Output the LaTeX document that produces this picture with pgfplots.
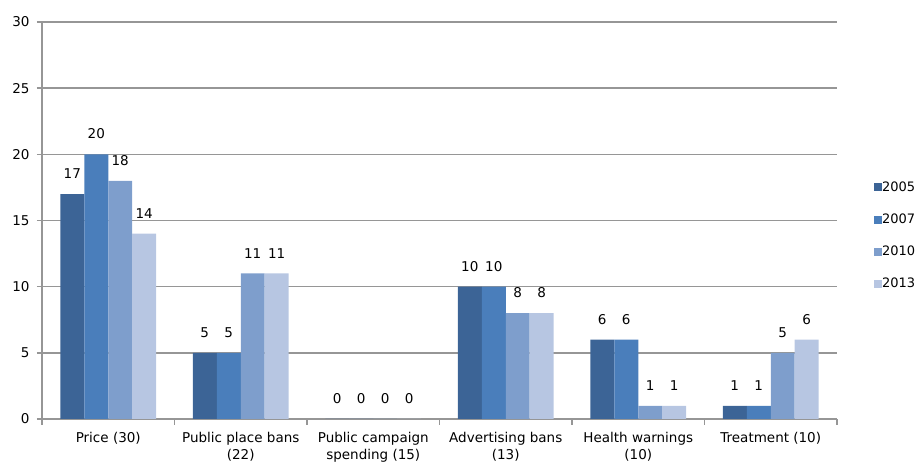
\documentclass[border=0pt]{standalone}
\usepackage{fontspec}
\setmainfont{DejaVu Sans}
\usepackage{pgfplots}
\pgfplotsset{compat=1.18}
\definecolor{cA}{RGB}{60,100,150}
\definecolor{cB}{RGB}{74,126,187}
\definecolor{cC}{RGB}{126,158,204}
\definecolor{cD}{RGB}{183,198,226}
\definecolor{gridc}{RGB}{150,150,150}
\begin{document}
\begin{tikzpicture}
\path[use as bounding box] (-42pt,-46pt) rectangle (881pt,419pt);
\begin{axis}[
  at={(0pt,0pt)}, anchor=south west,
  scale only axis, width=795pt, height=397pt,
  xmin=0, xmax=6, ymin=0, ymax=30,
  /pgf/number format/assume math mode=true,
  ytick={0,5,...,30},
  xtick={0.5,1.5,...,5.5},
  xticklabels={Price (30),Public place bans\\(22),Public campaign\\spending (15),Advertising bans\\(13),Health warnings\\(10),Treatment (10)},
  minor xtick={0,1,...,6},
  major x tick style={draw=none},
  minor tick length=6pt,
  axis x line=bottom, axis y line=left,
  axis line style={draw=gridc, line width=1.6pt, -},
  ymajorgrids, grid style={draw=gridc, line width=1.6pt},
  y tick style={draw=gridc, line width=1.6pt},
  minor x tick style={draw=gridc, line width=1.6pt},
  tick align=outside, major tick length=5pt,
  xtick pos=bottom, ytick pos=left,
  xticklabel style={align=center, font=\fontsize{13.5}{17}\selectfont, yshift=-5pt},
  yticklabel style={font=\fontsize{13.5}{17}\selectfont, xshift=-4pt},
  ybar=0pt, bar width=0.181,
  nodes near coords,
  every node near coord/.append style={font=\fontsize{13.5}{17}\selectfont, anchor=south, inner sep=0pt, yshift=15pt},
  legend image code/.code={\fill[#1,draw=none] (0pt,-4.5pt) rectangle (8pt,3.5pt);},
  legend style={at={(1.042,0.463)}, anchor=west, draw=none, fill=none,
    font=\fontsize{13}{15}\selectfont, row sep=20pt,
    nodes={inner sep=0.5pt}},
  legend cell align=left,
  clip=false,
]
\addplot[fill=cA, draw=none] coordinates {(0.5,17) (1.5,5) (2.5,0) (3.5,10) (4.5,6) (5.5,1)};
\addplot[fill=cB, draw=none] coordinates {(0.5,20) (1.5,5) (2.5,0) (3.5,10) (4.5,6) (5.5,1)};
\addplot[fill=cC, draw=none] coordinates {(0.5,18) (1.5,11) (2.5,0) (3.5,8) (4.5,1) (5.5,5)};
\addplot[fill=cD, draw=none] coordinates {(0.5,14) (1.5,11) (2.5,0) (3.5,8) (4.5,1) (5.5,6)};
\legend{2005,2007,2010,2013}
\end{axis}
\end{tikzpicture}
\end{document}
